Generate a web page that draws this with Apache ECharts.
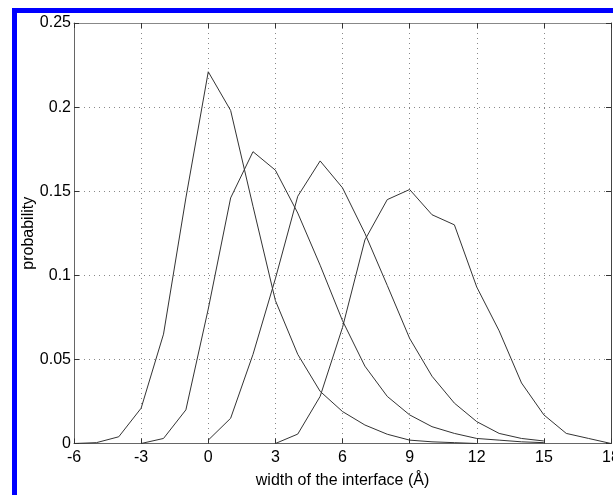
<!DOCTYPE html>
<html><head><meta charset="utf-8">
<script src="https://cdn.jsdelivr.net/npm/echarts@6/dist/echarts.min.js"></script>
<style>html,body{margin:0;padding:0;background:#fff}#c{width:613px;height:495px}</style>
</head><body><div id="c"></div>
<script>
// x positions (width of the interface, Å)
const xA = [-6,-5,-4,-3,-2,-1,0,1,2,3,4,5,6,7,8,9,10,11,12];
const yA = [0,0.0005,0.004,0.021,0.065,0.146,0.221,0.198,0.141,0.085,0.053,0.031,0.019,0.011,0.0055,0.002,0.001,0.0005,0];
const xB = [-3,-2,-1,0,1,2,3,4,5,6,7,8,9,10,11,12,13,14,15];
const yB = [0,0.003,0.020,0.080,0.146,0.1735,0.1625,0.137,0.106,0.073,0.046,0.028,0.017,0.010,0.006,0.003,0.002,0.001,0.0005];
const xC = [0,1,2,3,4,5,6,7,8,9,10,11,12,13,14,15];
const yC = [0.002,0.015,0.053,0.098,0.147,0.168,0.152,0.125,0.094,0.0625,0.040,0.024,0.013,0.006,0.003,0.0015];
const xD = [3,4,5,6,7,8,9,10,11,12,13,14,15,16,17,18];
const yD = [0,0.0056,0.028,0.069,0.121,0.145,0.151,0.136,0.130,0.093,0.067,0.036,0.017,0.006,0.003,0];

const xLabelName = 'width of the interface (Å)';
const yLabelName = 'probability';

function pairs(xs, ys){ return xs.map((x,i)=>[x, ys[i]]); }

const chart = echarts.init(document.getElementById('c'), null, {renderer:'canvas'});
const font = 'Liberation Sans, Arial, sans-serif';
const gridLine = {show:true, lineStyle:{color:'#888', type:[1,4], width:1}};
const mkSeries = (xs, ys) => ({type:'line', data:pairs(xs,ys), showSymbol:false, symbol:'none',
  lineStyle:{color:'#333', width:1}, itemStyle:{color:'#333'}, animation:false, z:3});

chart.setOption({
  animation:false,
  backgroundColor:'#fff',
  grid:{left:74, right:2, top:23, bottom:51.5, containLabel:false, outerBoundsMode:'none'},
  xAxis:[{
    type:'value', min:-6, max:18, interval:3,
    name:xLabelName, nameLocation:'middle', nameGap:29, nameMoveOverlap:false,
    nameTextStyle:{fontFamily:font, fontSize:16, color:'#000', verticalAlign:'top'},
    axisLine:{show:true, onZero:false, lineStyle:{color:'#666', width:1}},
    axisTick:{show:true, inside:true, length:5, lineStyle:{color:'#333'}},
    axisLabel:{fontFamily:font, fontSize:16, color:'#000', margin:6},
    splitLine:gridLine
  },{
    type:'value', min:-6, max:18, interval:3, position:'top',
    axisLine:{show:true, onZero:false, lineStyle:{color:'#888', width:1}},
    axisTick:{show:true, inside:true, length:5, lineStyle:{color:'#333'}},
    axisLabel:{show:false}, splitLine:{show:false}
  }],
  yAxis:[{
    type:'value', min:0, max:0.25, interval:0.05,
    name:yLabelName, nameLocation:'middle', nameGap:37, nameRotate:90, nameMoveOverlap:false,
    nameTextStyle:{fontFamily:font, fontSize:16, color:'#000'},
    axisLine:{show:true, onZero:false, lineStyle:{color:'#666', width:1}},
    axisTick:{show:true, inside:true, length:5, lineStyle:{color:'#333'}},
    axisLabel:{fontFamily:font, fontSize:16, color:'#000', margin:3},
    splitLine:gridLine
  },{
    type:'value', min:0, max:0.25, interval:0.05, position:'right',
    axisLine:{show:true, onZero:false, lineStyle:{color:'#444', width:1}},
    axisTick:{show:true, inside:true, length:5, lineStyle:{color:'#333'}},
    axisLabel:{show:false}, splitLine:{show:false}
  }],
  series:[mkSeries(xA,yA), mkSeries(xB,yB), mkSeries(xC,yC), mkSeries(xD,yD)],
  graphic:[
    {type:'rect', shape:{x:12, y:8, width:620, height:5}, style:{fill:'#0000ff'}, silent:true, z:10},
    {type:'rect', shape:{x:12, y:8, width:5, height:500}, style:{fill:'#0000ff'}, silent:true, z:10}
  ]
});
</script></body></html>
